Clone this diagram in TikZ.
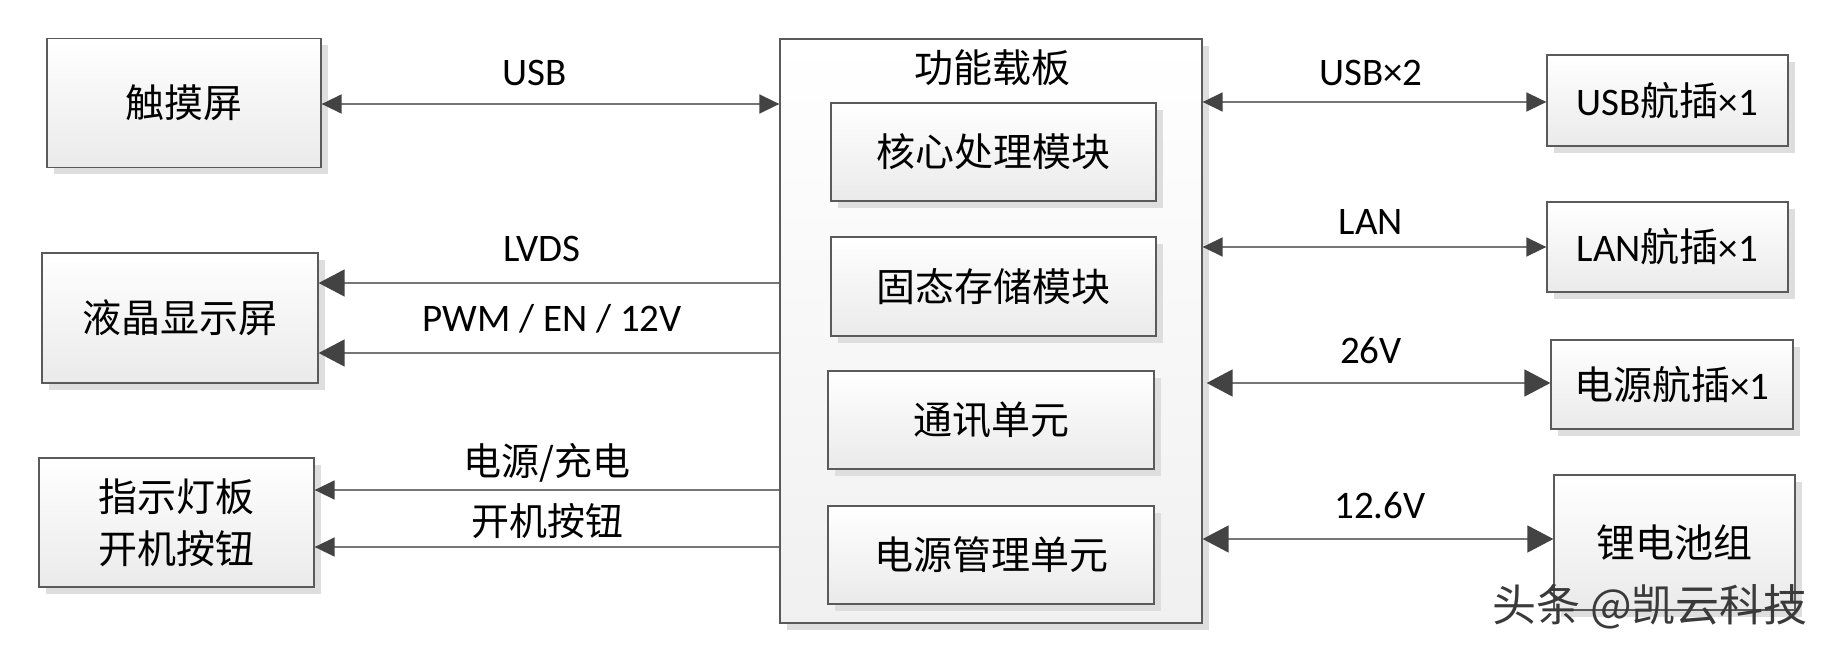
\documentclass[tikz,border=0pt]{standalone}
\usepackage{fontspec}
\setmainfont{Carlito}
\newfontfamily\cjk{Noto Sans CJK SC}
\usetikzlibrary{arrows.meta,shadows}
\definecolor{bordergray}{HTML}{5A5A5A}
\definecolor{linegray}{HTML}{767676}
\definecolor{tipgray}{HTML}{434343}
\definecolor{shadowgray}{HTML}{DEDEDE}
\definecolor{bottomgray}{HTML}{EAEAEA}
\definecolor{wmgray}{HTML}{3A3A3A}
\begin{document}
\begin{tikzpicture}[x=1pt,y=-1pt,
  blk/.style={draw=bordergray, line width=1.3pt, top color=white, bottom color=bottomgray,
    drop shadow={shadow xshift=7pt, shadow yshift=-7pt, fill=shadowgray, opacity=1},
    inner sep=0pt, align=center, font=\cjk\fontsize{39}{52}\selectfont},
  lbl/.style={inner sep=0pt, font=\fontsize{39}{44}\selectfont},
  cjklbl/.style={inner sep=0pt, font=\cjk\fontsize{38}{44}\selectfont},
  arr/.style={draw=linegray, line width=1.6pt, {Triangle[length=20pt,width=19pt,color=tipgray]}-{Triangle[length=20pt,width=19pt,color=tipgray]}},
  arrb/.style={draw=linegray, line width=1.6pt, {Triangle[length=26pt,width=27pt,color=tipgray]}-{Triangle[length=26pt,width=27pt,color=tipgray]}},
  arrl/.style={draw=linegray, line width=1.6pt, {Triangle[length=20pt,width=19pt,color=tipgray]}-},
  arrlb/.style={draw=linegray, line width=1.6pt, {Triangle[length=26pt,width=27pt,color=tipgray]}-},
]
\useasboundingbox (0,0) rectangle (1840,652);
\fill[white] (0,0) rectangle (1840,652);

% left boxes
\node[blk, minimum width=274pt, minimum height=129pt] (touch) at (184,103) {触摸屏};
\node[blk, minimum width=276pt, minimum height=130pt] (lcd) at (180,318) {液晶显示屏};
\node[blk, minimum width=275pt, minimum height=129pt] (ind) at (176.5,522.5) {指示灯板\\开机按钮};

% big board
\node[blk, minimum width=422pt, minimum height=584pt, bottom color=bottomgray!70] (board) at (991,331) {};
\node[inner sep=0pt, font=\cjk\fontsize{39}{44}\selectfont] (title) at (992,68) {功能载板};
\node[blk, minimum width=325pt, minimum height=98pt] (core) at (993.5,152) {核心处理模块};
\node[blk, minimum width=325pt, minimum height=99pt] (ssd) at (993.5,286.5) {固态存储模块};
\node[blk, minimum width=326pt, minimum height=98pt] (comm) at (991,420) {通讯单元};
\node[blk, minimum width=326pt, minimum height=98pt] (pwr) at (991,555) {电源管理单元};

% right boxes
\node[blk, minimum width=241pt, minimum height=91pt] (usbp) at (1667.5,100.5) {\rmfamily USB{\cjk 航插}×1};
\node[blk, minimum width=241pt, minimum height=90pt] (lanp) at (1667.5,247) {\rmfamily LAN{\cjk 航插}×1};
\node[blk, minimum width=242pt, minimum height=89pt] (pwrp) at (1672,384.5) {电源航插{\rmfamily ×1}};
\node[blk, minimum width=241pt, minimum height=135pt] (bat) at (1674.5,542.5) {锂电池组};

% left connectors
\draw[arr] (touch.east |- 0,104) -- (board.west |- 0,104);
\node[lbl] (lusb) at (535,73) {USB};
\draw[arrlb] (lcd.east |- 0,283) -- (board.west |- 0,283);
\node[lbl] (llvds) at (542,249) {LVDS};
\draw[arrlb] (lcd.east |- 0,353) -- (board.west |- 0,353);
\node[lbl] (lpwm) at (552,319) {PWM / EN / 12V};
\draw[arrl] (ind.east |- 0,490) -- (board.west |- 0,490);
\node[cjklbl] (lchg) at (547,463) {电源/充电};
\draw[arrl] (ind.east |- 0,547) -- (board.west |- 0,547);
\node[cjklbl] (lbtn) at (547,521) {开机按钮};

% right connectors
\draw[arr] (board.east |- 0,102) -- (usbp.west |- 0,102);
\node[lbl] (lusb2) at (1371,73) {USB×2};
\draw[arr] (board.east |- 0,247) -- (lanp.west |- 0,247);
\node[lbl] (llan) at (1371,222) {LAN};
\draw[arrb] ([xshift=4pt]board.east |- 0,383) -- (pwrp.west |- 0,383);
\node[lbl] (l26) at (1371,350) {26V};
\draw[arrb] (board.east |- 0,539) -- (bat.west |- 0,539);
\node[lbl] (l126) at (1380,505) {12.6V};

% watermark
\node[inner sep=0pt, text=wmgray, font=\cjk\fontsize{44}{48}\selectfont] (wm) at (1650,607) {头条 @凯云科技};
\end{tikzpicture}
\end{document}
